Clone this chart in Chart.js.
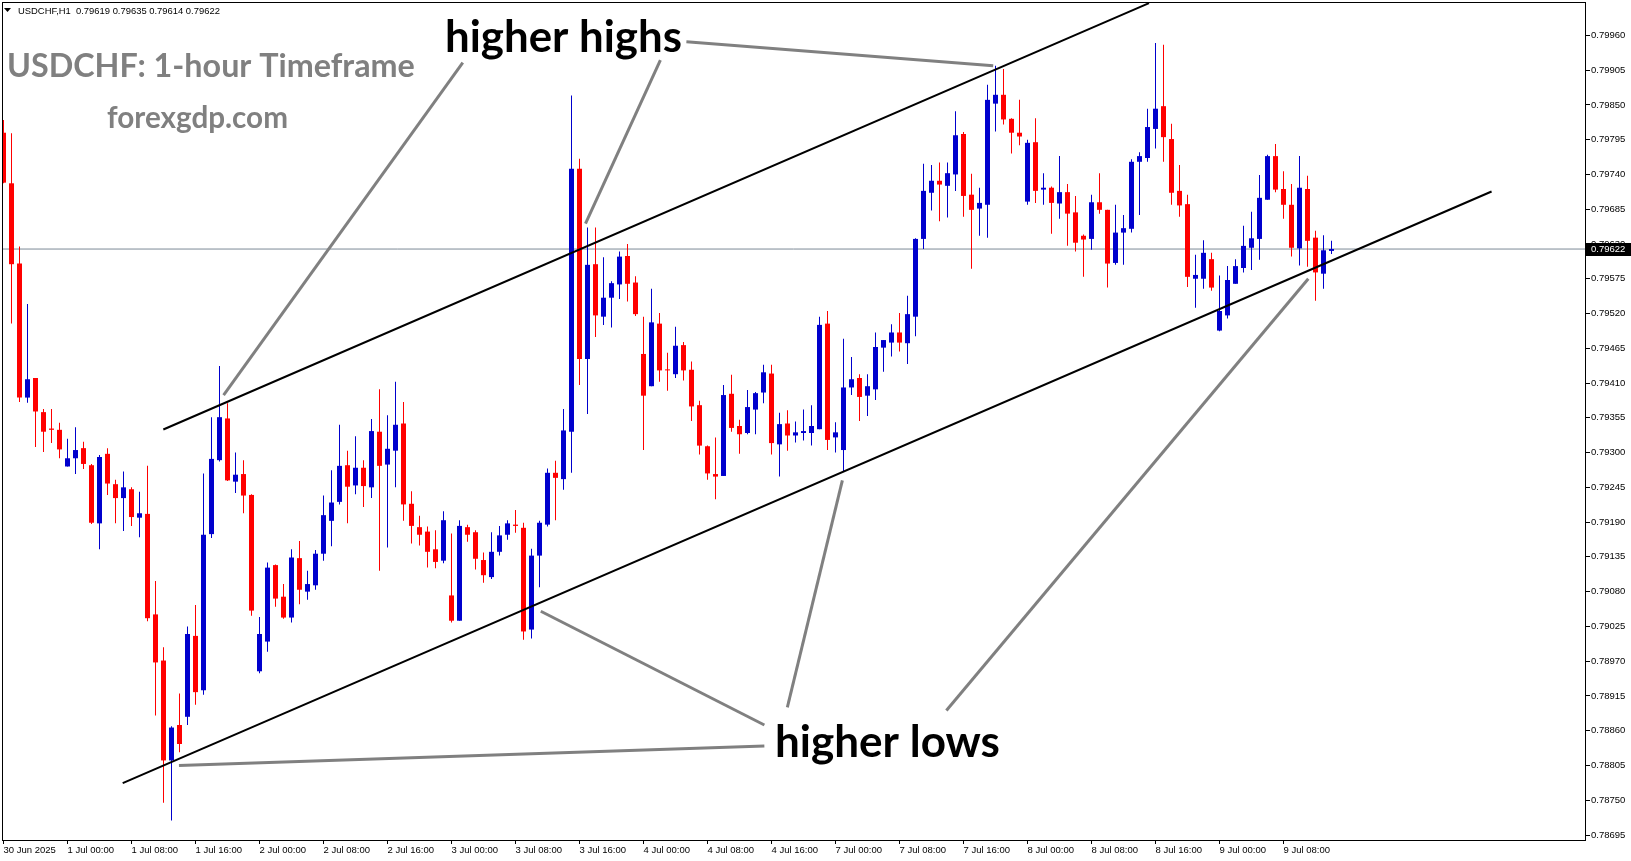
<!DOCTYPE html>
<html lang="en">
<head>
<meta charset="UTF-8">
<title>USDCHF H1</title>
<script src="https://cdn.jsdelivr.net/npm/chart.js"></script>
<style>
  html, body { margin: 0; padding: 0; background: #fff; overflow: hidden; }
  #wrap { width: 1631px; height: 861px; }
</style>
</head>
<body>
<div id="wrap"><canvas id="chart" width="1631" height="861"></canvas></div>
<script>
// USDCHF H1 candles, 30 Jun 16:00 .. 9 Jul 14:00 (one entry per hour)
const opens = [
  0.79806, 0.79726, 0.79599, 0.79387, 0.79418, 0.79364, 0.79338, 0.79336, 0.79278, 0.79291,
  0.79307, 0.79280, 0.79188, 0.79298, 0.79250, 0.79228, 0.79242, 0.79197, 0.79203, 0.79044,
  0.78971, 0.78813, 0.78869, 0.78882, 0.79010, 0.78924, 0.79171, 0.79288, 0.79354, 0.79254,
  0.79266, 0.79233, 0.78954, 0.79001, 0.79122, 0.79072, 0.79039, 0.79133, 0.79080, 0.79090,
  0.79140, 0.79192, 0.79222, 0.79280, 0.79248, 0.79276, 0.79245, 0.79333, 0.79281, 0.79303,
  0.79346, 0.79219, 0.79182, 0.79175, 0.79147, 0.79129, 0.79074, 0.79034, 0.79182, 0.79174,
  0.79130, 0.79103, 0.79143, 0.79170, 0.79186, 0.79181, 0.79020, 0.79137, 0.79186, 0.79268,
  0.79258, 0.79333, 0.79749, 0.79448, 0.79598, 0.79515, 0.79545, 0.79566, 0.79611, 0.79569,
  0.79456, 0.79405, 0.79504, 0.79431, 0.79424, 0.79470, 0.79431, 0.79375, 0.79310, 0.79266,
  0.79263, 0.79393, 0.79342, 0.79331, 0.79368, 0.79395, 0.79425, 0.79313, 0.79346, 0.79327,
  0.79331, 0.79331, 0.79337, 0.79504, 0.79324, 0.79304, 0.79403, 0.79418, 0.79390, 0.79400,
  0.79466, 0.79474, 0.79490, 0.79473, 0.79515, 0.79638, 0.79711, 0.79730, 0.79722, 0.79740,
  0.79804, 0.79708, 0.79686, 0.79692, 0.79852, 0.79866, 0.79828, 0.79806, 0.79697, 0.79791,
  0.79716, 0.79719, 0.79694, 0.79712, 0.79680, 0.79643, 0.79638, 0.79696, 0.79684, 0.79600,
  0.79648, 0.79654, 0.79760, 0.79766, 0.79812, 0.79848, 0.79796, 0.79714, 0.79693, 0.79575,
  0.79575, 0.79606, 0.79493, 0.79517, 0.79567, 0.79592, 0.79624, 0.79638, 0.79700, 0.79769,
  0.79717, 0.79692, 0.79623, 0.79717, 0.79640, 0.79583, 0.79619
];
const highs = [
  0.79826, 0.79805, 0.79626, 0.79535, 0.79418, 0.79369, 0.79369, 0.79347, 0.79322, 0.79340,
  0.79317, 0.79282, 0.79296, 0.79307, 0.79257, 0.79270, 0.79245, 0.79238, 0.79279, 0.79097,
  0.78992, 0.78867, 0.78919, 0.79025, 0.79059, 0.79267, 0.79356, 0.79437, 0.79378, 0.79300,
  0.79288, 0.79234, 0.79040, 0.79126, 0.79123, 0.79092, 0.79147, 0.79160, 0.79113, 0.79146,
  0.79232, 0.79272, 0.79344, 0.79303, 0.79326, 0.79288, 0.79353, 0.79400, 0.79359, 0.79412,
  0.79380, 0.79239, 0.79200, 0.79183, 0.79177, 0.79207, 0.79172, 0.79193, 0.79186, 0.79177,
  0.79142, 0.79174, 0.79184, 0.79193, 0.79209, 0.79189, 0.79148, 0.79192, 0.79275, 0.79287,
  0.79369, 0.79865, 0.79765, 0.79656, 0.79656, 0.79609, 0.79571, 0.79618, 0.79630, 0.79579,
  0.79515, 0.79559, 0.79521, 0.79458, 0.79499, 0.79475, 0.79444, 0.79382, 0.79311, 0.79324,
  0.79407, 0.79423, 0.79352, 0.79399, 0.79396, 0.79439, 0.79439, 0.79363, 0.79367, 0.79349,
  0.79368, 0.79375, 0.79515, 0.79524, 0.79348, 0.79480, 0.79451, 0.79424, 0.79424, 0.79490,
  0.79478, 0.79503, 0.79521, 0.79548, 0.79639, 0.79757, 0.79755, 0.79759, 0.79759, 0.79840,
  0.79807, 0.79741, 0.79719, 0.79882, 0.79912, 0.79907, 0.79829, 0.79858, 0.79795, 0.79829,
  0.79742, 0.79721, 0.79769, 0.79725, 0.79706, 0.79645, 0.79708, 0.79742, 0.79684, 0.79692,
  0.79676, 0.79764, 0.79775, 0.79844, 0.79948, 0.79945, 0.79820, 0.79755, 0.79708, 0.79613,
  0.79636, 0.79616, 0.79580, 0.79595, 0.79606, 0.79659, 0.79681, 0.79739, 0.79771, 0.79788,
  0.79745, 0.79725, 0.79769, 0.79738, 0.79651, 0.79644, 0.79635
];
const lows = [
  0.79726, 0.79504, 0.79380, 0.79379, 0.79309, 0.79301, 0.79315, 0.79291, 0.79278, 0.79266,
  0.79274, 0.79187, 0.79147, 0.79233, 0.79188, 0.79176, 0.79184, 0.79166, 0.79033, 0.78884,
  0.78746, 0.78718, 0.78826, 0.78869, 0.78901, 0.78917, 0.79165, 0.79286, 0.79255, 0.79236,
  0.79204, 0.79042, 0.78951, 0.78985, 0.79056, 0.79037, 0.79031, 0.79060, 0.79067, 0.79083,
  0.79129, 0.79152, 0.79218, 0.79188, 0.79234, 0.79214, 0.79228, 0.79113, 0.79150, 0.79245,
  0.79192, 0.79156, 0.79153, 0.79118, 0.79117, 0.79125, 0.79031, 0.79034, 0.79159, 0.79115,
  0.79094, 0.79100, 0.79137, 0.79162, 0.79173, 0.79004, 0.79006, 0.79087, 0.79183, 0.79193,
  0.79241, 0.79268, 0.79407, 0.79361, 0.79483, 0.79502, 0.79498, 0.79543, 0.79539, 0.79516,
  0.79304, 0.79405, 0.79412, 0.79398, 0.79418, 0.79414, 0.79350, 0.79297, 0.79257, 0.79226,
  0.79263, 0.79333, 0.79298, 0.79329, 0.79329, 0.79378, 0.79297, 0.79262, 0.79303, 0.79316,
  0.79319, 0.79311, 0.79337, 0.79304, 0.79300, 0.79270, 0.79391, 0.79350, 0.79358, 0.79383,
  0.79428, 0.79452, 0.79460, 0.79440, 0.79484, 0.79622, 0.79683, 0.79666, 0.79672, 0.79714,
  0.79673, 0.79591, 0.79643, 0.79640, 0.79808, 0.79819, 0.79773, 0.79786, 0.79692, 0.79695,
  0.79692, 0.79646, 0.79670, 0.79627, 0.79618, 0.79578, 0.79621, 0.79678, 0.79561, 0.79597,
  0.79597, 0.79648, 0.79676, 0.79760, 0.79781, 0.79760, 0.79692, 0.79673, 0.79562, 0.79529,
  0.79559, 0.79556, 0.79492, 0.79512, 0.79567, 0.79585, 0.79589, 0.79605, 0.79700, 0.79712,
  0.79670, 0.79610, 0.79596, 0.79594, 0.79540, 0.79559, 0.79614
];
const closes = [
  0.79727, 0.79598, 0.79387, 0.79416, 0.79365, 0.79333, 0.79336, 0.79305, 0.79291, 0.79304,
  0.79282, 0.79189, 0.79293, 0.79251, 0.79228, 0.79245, 0.79198, 0.79204, 0.79038, 0.78968,
  0.78813, 0.78865, 0.78839, 0.79013, 0.78921, 0.79170, 0.79290, 0.79356, 0.79256, 0.79265,
  0.79232, 0.79050, 0.79013, 0.79118, 0.79069, 0.79039, 0.79134, 0.79083, 0.79092, 0.79140,
  0.79201, 0.79221, 0.79279, 0.79246, 0.79276, 0.79247, 0.79334, 0.79279, 0.79306, 0.79344,
  0.79218, 0.79184, 0.79170, 0.79143, 0.79127, 0.79193, 0.79034, 0.79184, 0.79170, 0.79132,
  0.79106, 0.79143, 0.79169, 0.79188, 0.79184, 0.79017, 0.79137, 0.79189, 0.79268, 0.79260,
  0.79335, 0.79749, 0.79448, 0.79597, 0.79517, 0.79545, 0.79568, 0.79610, 0.79567, 0.79519,
  0.79390, 0.79506, 0.79430, 0.79430, 0.79469, 0.79430, 0.79373, 0.79311, 0.79267, 0.79262,
  0.79391, 0.79339, 0.79329, 0.79372, 0.79394, 0.79427, 0.79315, 0.79345, 0.79327, 0.79332,
  0.79334, 0.79342, 0.79502, 0.79320, 0.79332, 0.79403, 0.79416, 0.79388, 0.79405, 0.79467,
  0.79478, 0.79490, 0.79474, 0.79519, 0.79638, 0.79714, 0.79730, 0.79724, 0.79742, 0.79802,
  0.79706, 0.79684, 0.79695, 0.79858, 0.79866, 0.79827, 0.79806, 0.79800, 0.79790, 0.79714,
  0.79719, 0.79695, 0.79712, 0.79678, 0.79632, 0.79637, 0.79696, 0.79684, 0.79599, 0.79648,
  0.79655, 0.79760, 0.79769, 0.79815, 0.79844, 0.79799, 0.79711, 0.79691, 0.79578, 0.79581,
  0.79616, 0.79561, 0.79524, 0.79573, 0.79595, 0.79627, 0.79639, 0.79703, 0.79769, 0.79716,
  0.79692, 0.79624, 0.79719, 0.79635, 0.79585, 0.79620, 0.79622
];

// time axis: bar index of each label and its text
const xTickBars = [0, 8, 16, 24, 32, 40, 48, 56, 64, 72, 80, 88, 96, 104, 112, 120, 128, 136, 144, 152, 160];
const xTickLabels = [
  '30 Jun 2025', '1 Jul 00:00', '1 Jul 08:00', '1 Jul 16:00', '2 Jul 00:00', '2 Jul 08:00', '2 Jul 16:00',
  '3 Jul 00:00', '3 Jul 08:00', '3 Jul 16:00', '4 Jul 00:00', '4 Jul 08:00', '4 Jul 16:00', '7 Jul 00:00',
  '7 Jul 08:00', '7 Jul 16:00', '8 Jul 00:00', '8 Jul 08:00', '8 Jul 16:00', '9 Jul 00:00', '9 Jul 08:00'
];
const yTicks = [
  0.78695, 0.78750, 0.78805, 0.78860, 0.78915, 0.78970, 0.79025, 0.79080, 0.79135, 0.79190,
  0.79245, 0.79300, 0.79355, 0.79410, 0.79465, 0.79520, 0.79575, 0.79630, 0.79685, 0.79740,
  0.79795, 0.79850, 0.79905, 0.79960
];

// drawn objects, in (bar index, price)
const upperChannel = [[19.98, 0.793365], [143.19, 0.80011]];
const lowerChannel = [[14.90, 0.78777], [186.01, 0.79713]];
const pointers = [
  [[57.41, 0.79917], [27.51, 0.79391]],
  [[82.11, 0.79921], [72.75, 0.79662]],
  [[85.36, 0.79950], [123.71, 0.79912]],
  [[95.11, 0.78836], [21.93, 0.78805]],
  [[95.11, 0.78869], [67.16, 0.79049]],
  [[97.98, 0.78897], [104.86, 0.79256]],
  [[117.86, 0.78892], [163.10, 0.79575]]
];
const callouts = [
  { text: 'higher highs', at: [55.19, 0.79934], width: 237 },
  { text: 'higher lows', at: [96.44, 0.78818], width: 225 }
];

const xMin = -0.1875, xMax = 197.6875;
const yMin = 0.786871, yMax = 0.800128;
const lastClose = closes[closes.length - 1];

const bull = '#0000cd', bear = '#ff0000';
const colors = closes.map((c, i) => c >= opens[i] ? bull : bear);
const pts = seg => seg.map(p => ({ x: p[0], y: p[1] }));
const axisFont = { family: 'Liberation Sans', size: 9.5 };

function fitText(ctx, text, x, y, width, weight, family, color) {
  ctx.font = weight + ' 40px ' + family;
  const size = 40 * width / ctx.measureText(text).width;
  ctx.font = weight + ' ' + size.toFixed(2) + 'px ' + family;
  ctx.fillStyle = color;
  ctx.textAlign = 'left';
  ctx.textBaseline = 'alphabetic';
  ctx.fillText(text, x, y);
}

const overlay = {
  id: 'overlay',
  afterDraw(chart) {
    const { ctx, chartArea: a, scales: { x, y } } = chart;
    ctx.save();
    ctx.strokeStyle = '#000';
    ctx.lineWidth = 1;
    ctx.strokeRect(a.left + 0.5, a.top + 0.5, a.right - a.left, a.bottom - a.top);

    // current price box on the price scale
    const py = y.getPixelForValue(lastClose);
    ctx.fillStyle = '#000';
    ctx.fillRect(a.right + 1, Math.round(py) - 6, chart.width - a.right - 1, 13);
    ctx.fillStyle = '#fff';
    ctx.font = '9.5px Liberation Sans';
    ctx.textBaseline = 'middle';
    ctx.textAlign = 'left';
    ctx.fillText(lastClose.toFixed(5), a.right + 6, Math.round(py) + 0.5);

    // header line
    ctx.fillStyle = '#000';
    ctx.beginPath();
    ctx.moveTo(4, 8); ctx.lineTo(11, 8); ctx.lineTo(7.5, 12); ctx.closePath();
    ctx.fill();
    const head = 'USDCHF,H1  ' + [opens, highs, lows, closes].map(s => s[s.length - 1].toFixed(5)).join(' ');
    fitText(ctx, head, 18, 14, 202, 'normal', 'Liberation Sans', '#000');

    fitText(ctx, 'USDCHF: 1-hour Timeframe', 7, 77, 408, 'bold', 'Lato', '#808080');
    fitText(ctx, 'forexgdp.com', 107, 128, 181, 'bold', 'Lato', '#808080');

    callouts.forEach(c => {
      fitText(ctx, c.text, x.getPixelForValue(c.at[0]), y.getPixelForValue(c.at[1]), c.width, 'bold', 'Lato', '#000');
    });
    ctx.restore();
  }
};

const datasets = [
  {
    type: 'line', label: 'price line',
    data: [{ x: xMin, y: lastClose }, { x: xMax, y: lastClose }],
    borderColor: '#7d8a97', borderWidth: 1, pointRadius: 0, order: 6
  },
  {
    type: 'bar', label: 'wicks',
    data: highs.map((h, i) => ({ x: i, y: [lows[i], h] })),
    backgroundColor: colors, barThickness: 1, grouped: false, inflateAmount: 0, borderWidth: 0, order: 4
  },
  {
    type: 'bar', label: 'bodies',
    data: opens.map((o, i) => ({ x: i, y: [o, closes[i]] })),
    backgroundColor: colors, barThickness: 5, minBarLength: 1, grouped: false, inflateAmount: 0, borderWidth: 0, order: 3
  },
  {
    type: 'line', label: 'upper channel', data: pts(upperChannel),
    borderColor: '#000', borderWidth: 2, pointRadius: 0, order: 2
  },
  {
    type: 'line', label: 'lower channel', data: pts(lowerChannel),
    borderColor: '#000', borderWidth: 2, pointRadius: 0, order: 2
  }
].concat(pointers.map((seg, k) => ({
  type: 'line', label: 'pointer ' + k, data: pts(seg),
  borderColor: '#808080', borderWidth: 3, pointRadius: 0, order: 1
})));

new Chart(document.getElementById('chart'), {
  type: 'bar',
  data: { datasets },
  options: {
    responsive: false,
    devicePixelRatio: 1,
    animation: false,
    events: [],
    layout: { padding: { left: 2, top: 2, right: 0, bottom: 0 } },
    plugins: { legend: { display: false }, tooltip: { enabled: false } },
    scales: {
      x: {
        type: 'linear', min: xMin, max: xMax, offset: false,
        afterBuildTicks: s => { s.ticks = xTickBars.map(v => ({ value: v })); },
        afterFit: s => { s.height = 21; s.paddingLeft = 0; s.paddingRight = 0; },
        ticks: {
          autoSkip: false, maxRotation: 0, minRotation: 0, align: 'start', padding: 1,
          color: '#000', font: axisFont,
          callback: (v, i) => xTickLabels[i]
        },
        grid: { drawOnChartArea: false, drawTicks: true, tickLength: 4, color: '#000', offset: false },
        border: { display: false }
      },
      y: {
        type: 'linear', position: 'right', min: yMin, max: yMax, beginAtZero: false,
        afterBuildTicks: s => { s.ticks = yTicks.map(v => ({ value: v })); },
        afterFit: s => { s.width = 46; s.paddingTop = 0; s.paddingBottom = 0; },
        ticks: { padding: 1, color: '#000', font: axisFont, callback: v => v.toFixed(5) },
        grid: { drawOnChartArea: false, drawTicks: true, tickLength: 5, color: '#000' },
        border: { display: false }
      }
    }
  },
  plugins: [overlay]
});
</script>
</body>
</html>
